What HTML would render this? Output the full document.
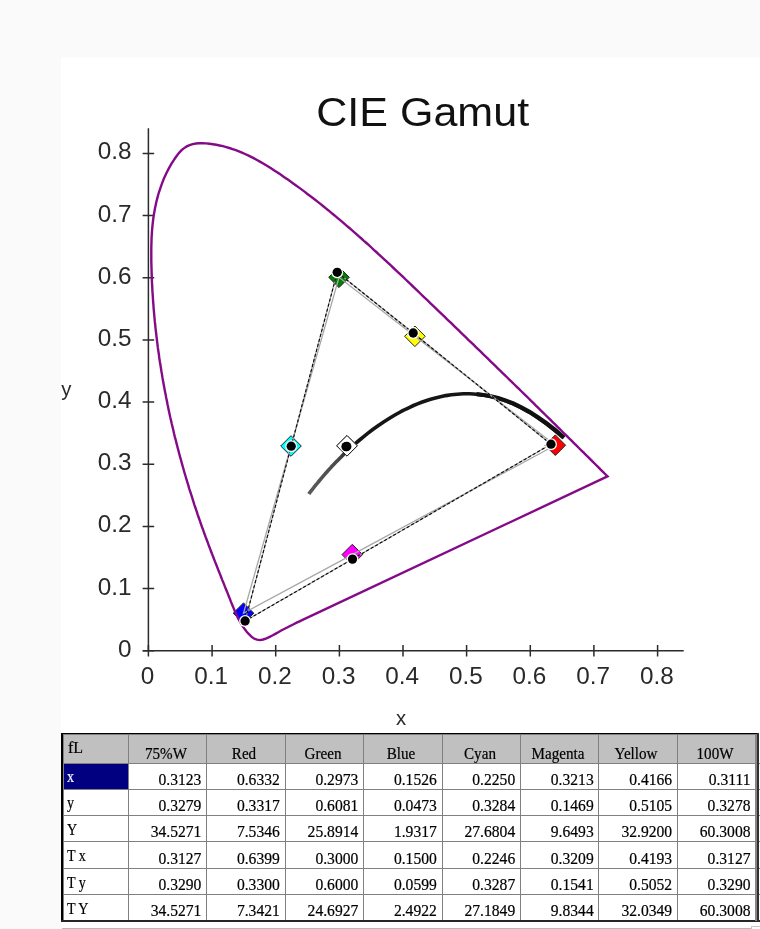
<!DOCTYPE html>
<html><head><meta charset="utf-8"><title>CIE Gamut</title>
<style>
html,body{margin:0;padding:0}
body{width:760px;height:929px;background:#fafafa;position:relative;overflow:hidden}
.tb{position:absolute;left:0;top:0;width:760px;height:929px;overflow:hidden;font-family:"Liberation Serif","Noto Serif CJK SC",serif;font-size:16px;color:#000}
.tb div{position:absolute}
.hd{background:#c0c0c0}
.sel{background:#000080}
.vl{top:735px;width:1px;height:186px;background:#808080}
.hl{left:63px;width:697px;height:1px;background:#808080}
.t{line-height:18px;height:18px;white-space:pre}
.t.c{text-align:center}
.t.r{text-align:right}
.t.w{color:#fff}
.t.n{font-size:15.6px;transform:scaleY(1.08);transform-origin:50% 78%}
.t.c.n{transform:scale(0.97,1.1)}
.t{-webkit-text-stroke:0.2px currentColor}
.t.l{transform:scaleX(0.88);transform-origin:0 0}
.tb,svg{will-change:transform}
</style></head>
<body>
<svg width="760" height="929" viewBox="0 0 760 929" style="position:absolute;left:0;top:0">
<rect x="61" y="57.4" width="699" height="872" fill="#ffffff"/>
<g stroke="#2b2b2b" stroke-width="1.5" fill="none">
<path d="M148.4,128.2 V650.8 M142.8,650.8 H683.7"/>
<path d="M142.6,650.8 H154.2 M142.6,588.6 H154.2 M142.6,526.4 H154.2 M142.6,464.3 H154.2 M142.6,402.1 H154.2 M142.6,339.9 H154.2 M142.6,277.7 H154.2 M142.6,215.6 H154.2 M142.6,153.4 H154.2 M148.4,645 V656.6 M212.1,645 V656.6 M275.7,645 V656.6 M339.4,645 V656.6 M403.0,645 V656.6 M466.6,645 V656.6 M530.3,645 V656.6 M593.9,645 V656.6 M657.6,645 V656.6 "/>
</g>
<g font-family="'Liberation Sans', Arial, sans-serif" font-size="24.3" fill="#2a2a2a">
<text x="131.6" y="656.7" text-anchor="end">0</text>
<text x="131.6" y="594.5" text-anchor="end">0.1</text>
<text x="131.6" y="532.3" text-anchor="end">0.2</text>
<text x="131.6" y="470.2" text-anchor="end">0.3</text>
<text x="131.6" y="408.0" text-anchor="end">0.4</text>
<text x="131.6" y="345.8" text-anchor="end">0.5</text>
<text x="131.6" y="283.6" text-anchor="end">0.6</text>
<text x="131.6" y="221.5" text-anchor="end">0.7</text>
<text x="131.6" y="159.3" text-anchor="end">0.8</text>
<text x="147.6" y="684.3" text-anchor="middle">0</text>
<text x="211.2" y="684.3" text-anchor="middle">0.1</text>
<text x="274.9" y="684.3" text-anchor="middle">0.2</text>
<text x="338.6" y="684.3" text-anchor="middle">0.3</text>
<text x="402.2" y="684.3" text-anchor="middle">0.4</text>
<text x="465.8" y="684.3" text-anchor="middle">0.5</text>
<text x="529.5" y="684.3" text-anchor="middle">0.6</text>
<text x="593.1" y="684.3" text-anchor="middle">0.7</text>
<text x="656.8" y="684.3" text-anchor="middle">0.8</text>
<text x="66.3" y="395.6" text-anchor="middle" font-size="20.3">y</text>
<text x="401" y="725" text-anchor="middle" font-size="20.3">x</text>
</g>
<text x="316.3" y="126.0" textLength="212.8" lengthAdjust="spacingAndGlyphs" font-family="'Liberation Sans', Arial, sans-serif" font-size="40" fill="#111">CIE Gamut</text>
<defs><linearGradient id="pg" gradientUnits="userSpaceOnUse" x1="309" y1="0" x2="356" y2="0"><stop offset="0" stop-color="#5a5a5a"/><stop offset="0.6" stop-color="#4a4a4a"/><stop offset="1" stop-color="#161616"/></linearGradient></defs>
<path d="M563.6,437.9 L554.6,430.3 L546.0,423.5 L537.4,417.5 L529.0,412.1 L520.9,407.6 L512.9,403.7 L505.1,400.6 L497.9,398.3 L490.6,396.4 L483.5,395.1 L476.5,394.2 L469.8,393.8 L463.4,393.8 L457.2,394.2 L451.4,394.8 L445.8,395.6 L440.5,396.7 L435.4,397.9 L430.6,399.2 L426.0,400.7 L421.6,402.3 L417.5,403.9 L413.5,405.5 L409.7,407.3 L406.1,409.0 L402.7,410.7 L399.4,412.5 L396.2,414.3 L393.2,416.0 L390.3,417.8 L383.6,422.0 L377.7,426.0 L372.4,429.8 L367.7,433.4 L363.4,436.8 L359.6,440.0 L356.2,442.9 L353.1,445.7 L350.2,448.2 L347.6,450.6 L345.3,452.8 L343.1,454.9 L341.1,456.9 L339.3,458.7 L337.6,460.4 L336.0,462.0 L334.6,463.5 L333.2,465.0 L331.9,466.3 L330.8,467.6 L329.7,468.8 L328.6,469.9 L327.7,471.0 L326.8,472.0 L323.6,475.6 L321.1,478.6 L319.1,481.0 L317.4,483.1 L315.9,484.8 L314.7,486.3 L313.7,487.7 L312.8,488.8 L312.0,489.8 L311.3,490.7 L310.7,491.5 L310.1,492.2 L309.6,492.9 L309.2,493.4 L308.8,494.0" fill="none" stroke="url(#pg)" stroke-width="3.6"/>
<path d="M476.6,394.2 L483.6,395.0 L490.8,396.3 L498.1,398.1 L505.4,400.4 L513.3,403.5 L521.3,407.3 L529.5,411.8 L537.9,417.2 L546.5,423.2 L555.1,430.0 L564.1,437.6" fill="none" stroke="#111" stroke-width="4.2"/>
<path d="M347.0,435.5 L357.3,445.8 L347.0,456.1 L336.7,445.8 Z" fill="#ffffff" stroke="#222" stroke-width="1"/>
<path d="M555.3,434.9 L565.6,445.2 L555.3,455.5 L545.0,445.2 Z" fill="#ff0000" stroke="#222" stroke-width="1"/>
<path d="M339.0,267.0 L349.3,277.3 L339.0,287.6 L328.7,277.3 Z" fill="#008000" stroke="#222" stroke-width="1"/>
<path d="M243.5,602.9 L253.8,613.2 L243.5,623.5 L233.2,613.2 Z" fill="#0000ff" stroke="#222" stroke-width="1"/>
<path d="M291.0,435.7 L301.3,446.0 L291.0,456.3 L280.7,446.0 Z" fill="#00ffff" stroke="#222" stroke-width="1"/>
<path d="M352.3,544.3 L362.6,554.6 L352.3,564.9 L342.0,554.6 Z" fill="#ff00ff" stroke="#222" stroke-width="1"/>
<path d="M414.9,326.0 L425.2,336.3 L414.9,346.6 L404.6,336.3 Z" fill="#ffff00" stroke="#222" stroke-width="1"/>
<path d="M347.0,435.5 L357.3,445.8 L347.0,456.1 L336.7,445.8 Z" fill="#ffffff" stroke="#222" stroke-width="1"/>
<path d="M607.5,476.4 L605.1,474.0 L602.7,471.7 L600.4,469.3 L598.0,466.9 L595.6,464.5 L593.2,462.2 L590.9,459.8 L588.5,457.4 L586.1,455.1 L583.7,452.7 L581.3,450.4 L578.9,448.0 L576.6,445.6 L574.2,443.3 L571.8,440.9 L569.4,438.6 L567.0,436.2 L564.6,433.8 L562.2,431.5 L559.9,429.1 L557.5,426.8 L555.1,424.4 L552.7,422.1 L550.3,419.7 L547.9,417.3 L545.5,415.0 L543.1,412.6 L540.7,410.3 L538.3,407.9 L535.9,405.6 L533.5,403.2 L531.1,400.9 L528.8,398.5 L526.4,396.2 L524.0,393.9 L521.6,391.5 L519.2,389.2 L516.8,386.8 L514.4,384.5 L512.0,382.1 L509.6,379.8 L507.2,377.5 L504.8,375.1 L502.4,372.8 L499.9,370.4 L497.5,368.1 L495.1,365.7 L492.7,363.4 L490.3,361.1 L487.9,358.7 L485.5,356.4 L483.1,354.1 L480.7,351.7 L478.3,349.4 L475.9,347.1 L473.5,344.7 L471.1,342.4 L468.6,340.1 L466.2,337.7 L463.8,335.4 L461.4,333.1 L459.0,330.7 L456.6,328.4 L454.2,326.1 L451.8,323.7 L449.3,321.4 L446.9,319.1 L444.5,316.7 L442.1,314.4 L439.7,312.1 L437.3,309.8 L434.8,307.4 L432.4,305.1 L430.0,302.8 L427.6,300.4 L425.1,298.1 L422.7,295.8 L420.3,293.5 L417.9,291.1 L415.5,288.8 L413.0,286.5 L410.6,284.2 L408.2,281.9 L405.7,279.5 L403.3,277.2 L400.9,274.9 L398.4,272.6 L396.0,270.3 L393.5,268.0 L391.1,265.7 L388.6,263.4 L386.2,261.1 L383.7,258.8 L381.3,256.6 L378.8,254.3 L376.3,252.0 L373.8,249.8 L371.4,247.5 L368.9,245.2 L366.4,243.0 L363.9,240.8 L361.4,238.5 L358.9,236.3 L356.4,234.1 L353.8,231.9 L351.3,229.7 L348.8,227.5 L346.2,225.3 L343.7,223.1 L341.1,220.9 L338.6,218.8 L336.0,216.6 L333.4,214.5 L330.8,212.4 L328.2,210.2 L325.6,208.1 L323.0,206.0 L320.4,203.9 L317.8,201.9 L315.1,199.8 L312.5,197.7 L309.8,195.7 L307.1,193.7 L304.5,191.6 L301.8,189.6 L299.1,187.6 L296.4,185.7 L293.6,183.7 L290.9,181.7 L288.2,179.8 L285.4,177.9 L282.6,176.0 L279.9,174.1 L277.1,172.2 L274.3,170.4 L271.4,168.5 L268.6,166.7 L265.7,165.0 L262.8,163.3 L259.9,161.6 L257.0,160.0 L254.1,158.4 L251.1,156.9 L248.1,155.4 L245.0,154.0 L242.0,152.7 L238.9,151.4 L235.8,150.2 L232.6,149.1 L229.4,148.0 L226.2,147.1 L222.9,146.2 L219.6,145.5 L216.3,144.8 L212.9,144.2 L209.5,143.7 L206.0,143.4 L202.6,143.2 L199.2,143.2 L195.9,143.5 L192.7,144.1 L189.6,145.1 L186.8,146.4 L184.1,148.1 L181.6,150.2 L179.3,152.6 L177.2,155.2 L175.2,158.0 L173.3,160.8 L171.5,163.7 L169.8,166.7 L168.2,169.6 L166.6,172.7 L165.2,175.7 L163.8,178.8 L162.6,181.9 L161.4,185.1 L160.3,188.3 L159.2,191.5 L158.2,194.7 L157.4,197.9 L156.5,201.2 L155.8,204.5 L155.1,207.8 L154.5,211.0 L153.9,214.4 L153.4,217.7 L153.0,221.0 L152.6,224.3 L152.3,227.6 L152.0,231.0 L151.8,234.3 L151.6,237.6 L151.5,241.0 L151.4,244.3 L151.3,247.7 L151.3,251.0 L151.3,254.4 L151.3,257.7 L151.3,261.1 L151.4,264.5 L151.5,267.8 L151.6,271.2 L151.7,274.5 L151.8,277.9 L151.9,281.2 L152.1,284.6 L152.3,287.9 L152.4,291.3 L152.7,294.6 L152.9,298.0 L153.1,301.3 L153.4,304.7 L153.6,308.0 L153.9,311.3 L154.2,314.7 L154.5,318.0 L154.8,321.4 L155.2,324.7 L155.5,328.1 L155.9,331.4 L156.3,334.7 L156.7,338.1 L157.1,341.4 L157.5,344.7 L157.9,348.0 L158.4,351.4 L158.9,354.7 L159.3,358.0 L159.8,361.3 L160.4,364.7 L160.9,368.0 L161.4,371.3 L162.0,374.6 L162.5,377.9 L163.1,381.2 L163.7,384.5 L164.3,387.8 L164.9,391.1 L165.6,394.4 L166.2,397.7 L166.9,401.0 L167.5,404.3 L168.2,407.6 L168.9,410.9 L169.6,414.2 L170.3,417.5 L171.1,420.7 L171.8,424.0 L172.6,427.3 L173.4,430.5 L174.1,433.8 L174.9,437.1 L175.8,440.3 L176.6,443.6 L177.4,446.8 L178.3,450.1 L179.1,453.3 L180.0,456.6 L180.9,459.8 L181.8,463.1 L182.7,466.3 L183.6,469.5 L184.5,472.7 L185.5,476.0 L186.4,479.2 L187.4,482.4 L188.4,485.6 L189.3,488.8 L190.3,492.0 L191.4,495.2 L192.4,498.4 L193.4,501.6 L194.4,504.8 L195.5,508.0 L196.6,511.1 L197.6,514.3 L198.7,517.5 L199.8,520.6 L200.9,523.8 L202.0,527.0 L203.2,530.1 L204.3,533.3 L205.4,536.4 L206.6,539.5 L207.8,542.7 L208.9,545.8 L210.1,548.9 L211.3,552.0 L212.5,555.2 L213.7,558.3 L214.9,561.4 L216.2,564.5 L217.4,567.6 L218.6,570.8 L219.9,573.9 L221.1,577.0 L222.3,580.1 L223.6,583.2 L224.8,586.4 L226.1,589.5 L227.4,592.6 L228.6,595.8 L229.9,598.9 L231.1,602.1 L232.4,605.2 L233.7,608.4 L235.0,611.5 L236.4,614.6 L237.8,617.6 L239.4,620.6 L241.0,623.5 L242.8,626.4 L244.7,629.1 L246.7,631.7 L249.0,634.2 L251.4,636.6 L254.0,638.5 L256.9,639.7 L260.0,640.1 L263.2,639.5 L266.5,638.3 L269.7,636.9 L272.8,635.3 L275.8,633.6 L278.7,632.0 L281.6,630.3 L284.6,628.8 L287.6,627.2 L290.6,625.7 L293.6,624.2 L296.6,622.7 L299.6,621.3 L302.6,619.9 Z" fill="none" stroke="#850a88" stroke-width="2.4" stroke-linejoin="miter"/>
<path d="M555.3,445.2 L414.9,336.3 L339.0,277.3 L291.0,446.0 L243.5,613.2 L352.3,554.6 Z" fill="none" stroke="#a8a8a8" stroke-width="1.3"/>
<path d="M551.0,444.2 L413.2,333.0 L337.2,272.3 L291.2,446.2 L245.1,621.0 L352.5,559.1 Z" fill="none" stroke="#9c9c9c" stroke-width="1.1"/>
<path d="M551.0,444.2 L413.2,333.0 L337.2,272.3 L291.2,446.2 L245.1,621.0 L352.5,559.1 Z" fill="none" stroke="#0a0a0a" stroke-width="1.15" stroke-dasharray="3.1 2.1"/>
<circle cx="346.8" cy="446.5" r="5.95" fill="#fff"/>
<circle cx="551.0" cy="444.2" r="5.95" fill="#fff"/>
<circle cx="337.2" cy="272.3" r="5.95" fill="#fff"/>
<circle cx="245.1" cy="621.0" r="5.95" fill="#fff"/>
<circle cx="291.2" cy="446.2" r="5.95" fill="#fff"/>
<circle cx="352.5" cy="559.1" r="5.95" fill="#fff"/>
<circle cx="413.2" cy="333.0" r="5.95" fill="#fff"/>
<circle cx="346.0" cy="446.6" r="5.95" fill="#fff"/>
<circle cx="346.8" cy="446.5" r="4.65" fill="#000"/>
<circle cx="551.0" cy="444.2" r="4.65" fill="#000"/>
<circle cx="337.2" cy="272.3" r="4.65" fill="#000"/>
<circle cx="245.1" cy="621.0" r="4.65" fill="#000"/>
<circle cx="291.2" cy="446.2" r="4.65" fill="#000"/>
<circle cx="352.5" cy="559.1" r="4.65" fill="#000"/>
<circle cx="413.2" cy="333.0" r="4.65" fill="#000"/>
<circle cx="346.0" cy="446.6" r="4.65" fill="#000"/>
</svg>
<div class="tb">
<div class="hd" style="left:63px;top:735px;width:694px;height:28px"></div>
<div class="sel" style="left:63px;top:764px;width:65px;height:25px"></div>
<div class="vl" style="left:127.7px"></div>
<div class="vl" style="left:206.1px"></div>
<div class="vl" style="left:284.6px"></div>
<div class="vl" style="left:363.1px"></div>
<div class="vl" style="left:441.5px"></div>
<div class="vl" style="left:520.0px"></div>
<div class="vl" style="left:598.4px"></div>
<div class="vl" style="left:676.8px"></div>
<div class="vl" style="left:755.3px"></div>
<div class="hl" style="top:762.5px"></div>
<div class="hl" style="top:788.7px"></div>
<div class="hl" style="top:814.9px"></div>
<div class="hl" style="top:841.4px"></div>
<div class="hl" style="top:867.9px"></div>
<div class="hl" style="top:893.8px"></div>
<div class="b" style="left:61px;top:733px;width:698.2px;height:1.6px;background:#000"></div>
<div class="b" style="left:61px;top:733px;width:1.8px;height:189px;background:#000"></div>
<div class="b" style="left:62.8px;top:734.4px;width:694px;height:1px;background:#808080"></div>
<div class="b" style="left:62.8px;top:734.4px;width:1px;height:186px;background:#808080"></div>
<div class="b" style="left:61px;top:919.6px;width:699px;height:2.2px;background:#262626"></div>
<div class="b" style="left:754.8px;top:734.5px;width:2.3px;height:186px;background:#868686"></div>
<div class="b" style="left:757px;top:733px;width:1.9px;height:189px;background:#303030"></div>
<div class="b" style="left:62px;top:928px;width:698px;height:1px;background:#b8b8b8"></div>
<div class="b" style="left:750.5px;top:925.5px;width:10px;height:4px;border:1px solid #c8c8c8;background:#fff"></div>
<div class="t" style="left:68px;top:738.5px">fL</div>
<div class="t c n" style="left:126.7px;top:745.0px;width:78px">75%W</div>
<div class="t c n" style="left:205.1px;top:745.0px;width:78px">Red</div>
<div class="t c n" style="left:283.6px;top:745.0px;width:78px">Green</div>
<div class="t c n" style="left:362.1px;top:745.0px;width:78px">Blue</div>
<div class="t c n" style="left:440.5px;top:745.0px;width:78px">Cyan</div>
<div class="t c n" style="left:519.0px;top:745.0px;width:78px">Magenta</div>
<div class="t c n" style="left:597.4px;top:745.0px;width:78px">Yellow</div>
<div class="t c n" style="left:675.8px;top:745.0px;width:78px">100W</div>
<div class="t w l" style="left:67.2px;top:768.2px">x</div>
<div class="t r n" style="left:128.2px;top:770.6px;width:73.2px">0.3123</div>
<div class="t r n" style="left:206.6px;top:770.6px;width:73.2px">0.6332</div>
<div class="t r n" style="left:285.1px;top:770.6px;width:73.2px">0.2973</div>
<div class="t r n" style="left:363.6px;top:770.6px;width:73.2px">0.1526</div>
<div class="t r n" style="left:442.0px;top:770.6px;width:73.2px">0.2250</div>
<div class="t r n" style="left:520.5px;top:770.6px;width:73.2px">0.3213</div>
<div class="t r n" style="left:598.9px;top:770.6px;width:73.2px">0.4166</div>
<div class="t r n" style="left:677.3px;top:770.6px;width:73.2px">0.3111</div>
<div class="t l" style="left:67.2px;top:794.4px">y</div>
<div class="t r n" style="left:128.2px;top:796.8px;width:73.2px">0.3279</div>
<div class="t r n" style="left:206.6px;top:796.8px;width:73.2px">0.3317</div>
<div class="t r n" style="left:285.1px;top:796.8px;width:73.2px">0.6081</div>
<div class="t r n" style="left:363.6px;top:796.8px;width:73.2px">0.0473</div>
<div class="t r n" style="left:442.0px;top:796.8px;width:73.2px">0.3284</div>
<div class="t r n" style="left:520.5px;top:796.8px;width:73.2px">0.1469</div>
<div class="t r n" style="left:598.9px;top:796.8px;width:73.2px">0.5105</div>
<div class="t r n" style="left:677.3px;top:796.8px;width:73.2px">0.3278</div>
<div class="t l" style="left:67.2px;top:820.6px">Y</div>
<div class="t r n" style="left:128.2px;top:823.0px;width:73.2px">34.5271</div>
<div class="t r n" style="left:206.6px;top:823.0px;width:73.2px">7.5346</div>
<div class="t r n" style="left:285.1px;top:823.0px;width:73.2px">25.8914</div>
<div class="t r n" style="left:363.6px;top:823.0px;width:73.2px">1.9317</div>
<div class="t r n" style="left:442.0px;top:823.0px;width:73.2px">27.6804</div>
<div class="t r n" style="left:520.5px;top:823.0px;width:73.2px">9.6493</div>
<div class="t r n" style="left:598.9px;top:823.0px;width:73.2px">32.9200</div>
<div class="t r n" style="left:677.3px;top:823.0px;width:73.2px">60.3008</div>
<div class="t l" style="left:67.2px;top:847.1px">T x</div>
<div class="t r n" style="left:128.2px;top:849.5px;width:73.2px">0.3127</div>
<div class="t r n" style="left:206.6px;top:849.5px;width:73.2px">0.6399</div>
<div class="t r n" style="left:285.1px;top:849.5px;width:73.2px">0.3000</div>
<div class="t r n" style="left:363.6px;top:849.5px;width:73.2px">0.1500</div>
<div class="t r n" style="left:442.0px;top:849.5px;width:73.2px">0.2246</div>
<div class="t r n" style="left:520.5px;top:849.5px;width:73.2px">0.3209</div>
<div class="t r n" style="left:598.9px;top:849.5px;width:73.2px">0.4193</div>
<div class="t r n" style="left:677.3px;top:849.5px;width:73.2px">0.3127</div>
<div class="t l" style="left:67.2px;top:873.6px">T y</div>
<div class="t r n" style="left:128.2px;top:876.0px;width:73.2px">0.3290</div>
<div class="t r n" style="left:206.6px;top:876.0px;width:73.2px">0.3300</div>
<div class="t r n" style="left:285.1px;top:876.0px;width:73.2px">0.6000</div>
<div class="t r n" style="left:363.6px;top:876.0px;width:73.2px">0.0599</div>
<div class="t r n" style="left:442.0px;top:876.0px;width:73.2px">0.3287</div>
<div class="t r n" style="left:520.5px;top:876.0px;width:73.2px">0.1541</div>
<div class="t r n" style="left:598.9px;top:876.0px;width:73.2px">0.5052</div>
<div class="t r n" style="left:677.3px;top:876.0px;width:73.2px">0.3290</div>
<div class="t l" style="left:67.2px;top:899.5px">T Y</div>
<div class="t r n" style="left:128.2px;top:901.9px;width:73.2px">34.5271</div>
<div class="t r n" style="left:206.6px;top:901.9px;width:73.2px">7.3421</div>
<div class="t r n" style="left:285.1px;top:901.9px;width:73.2px">24.6927</div>
<div class="t r n" style="left:363.6px;top:901.9px;width:73.2px">2.4922</div>
<div class="t r n" style="left:442.0px;top:901.9px;width:73.2px">27.1849</div>
<div class="t r n" style="left:520.5px;top:901.9px;width:73.2px">9.8344</div>
<div class="t r n" style="left:598.9px;top:901.9px;width:73.2px">32.0349</div>
<div class="t r n" style="left:677.3px;top:901.9px;width:73.2px">60.3008</div>
</div>
</body></html>
